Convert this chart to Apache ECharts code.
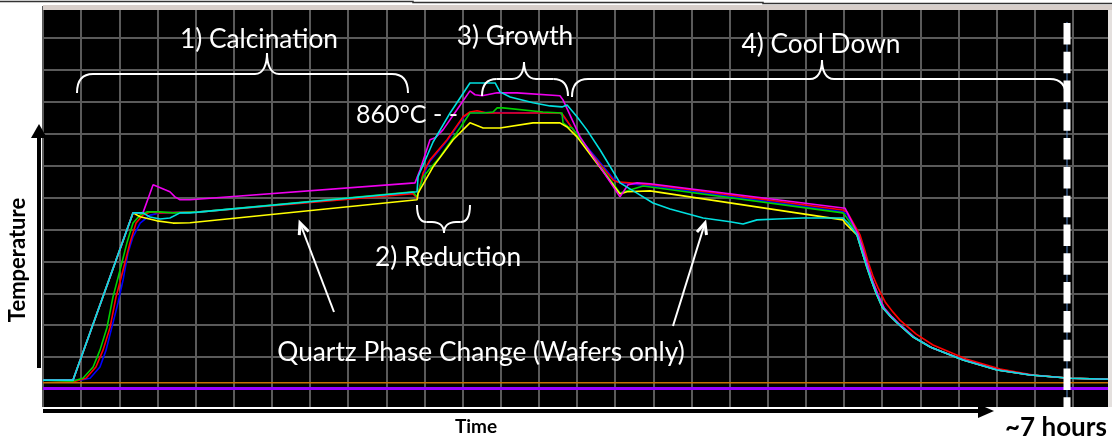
<!DOCTYPE html>
<html><head><meta charset="utf-8">
<script src="https://cdn.jsdelivr.net/npm/echarts@6/dist/echarts.min.js"></script>
<style>html,body{margin:0;padding:0;background:#fff;}#c{width:1112px;height:437px;}</style>
</head><body><div id="c"></div>
<script>
// time in minutes (15 min per grid column), temperature in deg C (100 per grid row)
const cyanData = [[0,28],[11.8,28],[35.4,552],[39.3,552],[42.1,539],[46.0,533],[49.9,536],[53.9,552],[57.8,552],[147.1,618],[147.5,665],[153.4,774],[160.1,865],[167.9,959],[174.6,959],[177.8,959],[179.7,931],[183.7,915],[192.7,897],[199.4,887],[204.1,884],[206.1,890],[210.0,853],[213.9,812],[219.1,749],[226.9,646],[233.6,614],[239.9,583],[246.6,564],[259.6,536],[270.2,524],[275.3,517],[280.8,530],[288.7,533],[298.9,536],[314.6,536],[316.6,520],[320.1,483],[321.3,451],[322.5,420],[324.1,379],[325.7,342],[327.6,301],[330.0,257],[333.1,229],[335.9,207],[342.2,163],[348.9,132],[361.8,91],[375.2,60],[388.2,44],[403.9,34],[420,31]];
const magentaData = [[0,28],[11.8,28],[35.4,552],[39.3,552],[43.3,640],[49.9,618],[51.9,602],[53.9,593],[57.8,593],[146.3,646],[148.3,687],[152.2,781],[154.2,787],[157.3,812],[162.8,875],[167.9,934],[169.9,922],[172.7,919],[178.6,928],[186.4,928],[203.3,919],[204.5,906],[211.2,790],[226.9,602],[230.1,640],[233.6,646],[238.7,643],[314.6,567],[315.4,567],[320.5,486],[322.1,448],[323.3,414],[324.9,373],[326.4,335],[328.4,295],[330.8,254],[333.9,226],[336.7,204],[343.0,160],[349.7,129],[362.2,91],[375.6,60],[388.6,44],[403.9,34],[420,31]];
const redData = [[0,28],[13.0,25],[16.9,34],[20.8,69],[23.6,122],[26.4,194],[28.7,288],[31.5,373],[34.2,458],[36.6,520],[39.3,545],[42.1,555],[46.0,552],[61.7,555],[145.5,612],[147.1,598],[149.5,677],[152.2,718],[158.9,781],[165.2,853],[167.9,868],[170.7,872],[174.6,865],[203.3,865],[204.5,859],[211.2,781],[224.2,655],[225.8,649],[239.9,640],[314.6,561],[316.2,555],[321.3,483],[322.9,442],[324.5,398],[326.4,354],[328.4,317],[331.2,273],[334.3,241],[337.0,216],[343.4,172],[350.0,138],[363.0,94],[376.4,63],[389.4,44],[403.9,34],[420,31]];
const greenData = [[0,28],[11.8,25],[15.7,34],[19.7,69],[22.4,122],[25.2,194],[27.5,288],[30.3,373],[33.0,458],[35.4,520],[38.2,545],[40.9,555],[46.0,555],[51.1,552],[61.7,555],[145.5,618],[147.1,602],[149.5,665],[156.1,727],[164.0,818],[167.9,865],[173.1,865],[177.0,868],[178.6,881],[180.9,881],[196.6,868],[204.1,865],[204.5,834],[206.5,821],[208.1,818],[226.9,614],[236.0,636],[314.6,552],[315.4,545],[320.5,486],[322.1,448],[323.3,414],[324.9,373],[326.4,335],[328.4,295],[330.8,254],[333.9,226],[336.7,204],[343.0,160],[349.7,129],[362.2,91],[375.6,60],[388.6,44],[403.9,34],[420,31]];
const blueData = [[0,28],[14.6,28],[18.5,34],[22.4,69],[24.8,122],[27.1,194],[29.5,270],[31.5,342],[33.4,426],[35.4,477],[38.2,520],[42.1,545],[46.0,552],[61.7,555],[145.5,615],[147.1,600],[149.5,670],[152.2,714],[158.9,778],[165.2,850],[167.9,866],[174.6,866],[203.3,865],[204.5,855],[211.2,785],[224.2,660],[226.9,646],[239.9,636],[314.6,555],[316.2,548],[320.1,483],[321.3,451],[322.5,420],[324.1,379],[325.7,342],[327.6,301],[330.0,257],[333.1,229],[335.9,207],[342.2,163],[348.9,132],[361.8,91],[375.2,60],[388.2,44],[403.9,34],[420,31]];
const yellowData = [[0,28],[11.8,28],[35.4,552],[38.2,540],[44.8,527],[51.1,520],[57.8,521],[147.1,593],[147.5,614],[153.4,696],[161.3,781],[167.9,834],[173.1,818],[179.7,818],[192.7,834],[203.3,834],[206.1,821],[210.0,790],[226.9,611],[229.7,618],[238.7,621],[314.6,530],[315.4,520],[320.1,483],[321.3,451],[322.5,420],[324.1,379],[325.7,342],[327.6,301],[330.0,257],[333.1,229],[335.9,207],[342.2,163],[348.9,132],[361.8,91],[375.2,60],[388.2,44],[403.9,34],[420,31]];
const orangeData = [[0,20],[420,20]];
const purpleData = [[0,2],[420,2]];
const endMarker = [[402.7,-100],[402.7,1150]];

const phaseLabels = ['1) Calcination','2) Reduction','3) Growth','4) Cool Down'];
const noteLabels = ['860°C - -','Quartz Phase Change (Wafers only)'];
const axisTitles = ['Temperature','Time','~7 hours'];

const chart = echarts.init(document.getElementById('c'), null, {renderer:'canvas'});

function line(name, data, color, width, z) {
  return {name, type:'line', data, symbol:'none', smooth:false, animation:false,
    lineStyle:{color, width}, z: z||2};
}
function arrowHead(tail, tip, len, half) {
  const dx = tip[0]-tail[0], dy = tip[1]-tail[1];
  const L = Math.hypot(dx,dy), ux = dx/L, uy = dy/L;
  const bx = tip[0]-ux*len, by = tip[1]-uy*len;
  return [[bx - uy*half, by + ux*half], tip, [bx + uy*half, by - ux*half]];
}
const W = '#ffffff';
const txt = (text, x, y, font, align, fill, extra) => Object.assign({
  type:'text', z:110, style:{text, x, y, font, textAlign:align, textVerticalAlign:'middle', fill: fill||W}
}, extra||{});
const BS = {stroke:W, fill:null, lineWidth:2};
function brace(xL, xR, yEnd, yBar, xP, yP) {
  const r = Math.min(16, (xP - xL) * 0.35), p = 12;
  const hE = yEnd - yBar, hP = yP - yBar;
  const bz = (a,b,c,d) => ({type:'bezierCurve', z:105, style:BS,
    shape:{x1:a[0],y1:a[1],cpx1:b[0],cpy1:b[1],cpx2:c[0],cpy2:c[1],x2:d[0],y2:d[1]}});
  const ln = (a,b) => ({type:'line', z:105, style:BS, shape:{x1:a[0],y1:a[1],x2:b[0],y2:b[1]}});
  return [
    bz([xL,yEnd],[xL,yBar+hE*0.35],[xL+r*0.35,yBar],[xL+r,yBar]),
    ln([xL+r,yBar],[xP-p,yBar]),
    bz([xP-p,yBar],[xP-p*0.3,yBar],[xP,yBar+hP*0.45],[xP,yP]),
    bz([xP,yP],[xP,yBar+hP*0.45],[xP+p*0.3,yBar],[xP+p,yBar]),
    ln([xP+p,yBar],[xR-r,yBar]),
    bz([xR-r,yBar],[xR-r*0.35,yBar],[xR,yBar+hE*0.35],[xR,yEnd])
  ];
}
const arrowA = [[334,312],[300,223]];
const arrowB = [[673,326],[705,223]];
const F = '26.3px Lato';

const option = {
  animation:false,
  backgroundColor:'#fff',
  grid:{left:43, top:6, width:1068, height:415, show:true, backgroundColor:'#000', borderWidth:0},
  xAxis:{type:'value', min:0, max:420, interval:15, axisLine:{show:false}, axisTick:{show:false}, axisLabel:{show:false},
    splitLine:{show:true, lineStyle:{color:'#5a5a5a', width:2}}},
  yAxis:{type:'value', min:-100, max:1200, interval:100, axisLine:{show:false}, axisTick:{show:false}, axisLabel:{show:false},
    splitLine:{show:true, lineStyle:{color:'#5a5a5a', width:2}}},
  series:[
    line('orange', orangeData, '#c87000', 1.5),
    line('purple', purpleData, '#9a00ff', 3),
    line('blue', blueData, '#0000ff', 1.6),
    line('red', redData, '#ff0000', 1.6),
    line('green', greenData, '#00d000', 1.6),
    line('yellow', yellowData, '#ffff00', 1.6),
    line('magenta', magentaData, '#ee00ee', 1.6),
    line('cyan', cyanData, '#00e0e0', 1.6),
    line('endThin', endMarker, '#5a8ccc', 1, 3),
    {name:'end', type:'line', data:endMarker, symbol:'none', z:4,
      lineStyle:{color:'#fff', width:7, type:[21.5,7.3], dashOffset:26.6}}
  ],
  graphic:{elements:[
    {type:'rect', z:100, shape:{x:43,y:5,width:1069,height:5}, style:{fill:'#d8cfcb'}},
    {type:'rect', z:100, shape:{x:1108,y:10,width:4,height:397}, style:{fill:'#e4e0de'}},
    {type:'polyline', z:100, shape:{points:[[0,1.5],[413,1.5],[413,2.5],[763,2.5],[763,3.5],[1112,3.5]]}, style:{stroke:'#333', lineWidth:1.5, fill:null}},
    {type:'rect', z:100, shape:{x:0,y:407,width:1112,height:30}, style:{fill:'#fff'}},
    {type:'line', z:101, shape:{x1:43,y1:411,x2:982,y2:411}, style:{stroke:'#000', lineWidth:4}},
    {type:'polygon', z:101, shape:{points:[[978,404],[994,411],[978,418]]}, style:{fill:'#000'}},
    {type:'line', z:101, shape:{x1:39,y1:368,x2:39,y2:134}, style:{stroke:'#000', lineWidth:4}},
    {type:'polygon', z:101, shape:{points:[[31,138],[39,124],[47,138]]}, style:{fill:'#000'}},
    ...brace(77, 408, 93, 74, 267, 53),
    ...brace(482, 568, 96, 79, 524, 62),
    ...brace(572, 1066, 97, 79, 822, 60),
    ...brace(417, 470, 205, 222, 444, 233),
    {type:'line', z:105, shape:{x1:arrowA[0][0],y1:arrowA[0][1],x2:arrowA[1][0],y2:arrowA[1][1]}, style:{stroke:W,lineWidth:2}},
    {type:'polyline', z:105, shape:{points:arrowHead(arrowA[0],arrowA[1],11,5)}, style:{stroke:W,lineWidth:3,fill:null}},
    {type:'line', z:105, shape:{x1:arrowB[0][0],y1:arrowB[0][1],x2:arrowB[1][0],y2:arrowB[1][1]}, style:{stroke:W,lineWidth:2}},
    {type:'polyline', z:105, shape:{points:arrowHead(arrowB[0],arrowB[1],11,5)}, style:{stroke:W,lineWidth:3,fill:null}},
    txt(phaseLabels[0], 259, 40, F, 'center'),
    txt(phaseLabels[1], 448, 258, F, 'center'),
    txt(phaseLabels[2], 515, 37, F, 'center'),
    txt(phaseLabels[3], 821, 45, F, 'center'),
    txt(noteLabels[0], 356, 115, '25px Lato', 'left'),
    txt(noteLabels[1], 481, 353, F, 'center'),
    txt(axisTitles[1], 476, 427, 'bold 19px Lato', 'center', '#000'),
    txt(axisTitles[2], 1005, 428, 'bold 26px Lato', 'left', '#000'),
    {type:'text', z:110, x:18, y:260, rotation:Math.PI/2,
      style:{text:axisTitles[0], x:0, y:0, font:'bold 22px Lato', textAlign:'center', textVerticalAlign:'middle', fill:'#000'}}
  ]}
};
chart.setOption(option);
</script></body></html>
